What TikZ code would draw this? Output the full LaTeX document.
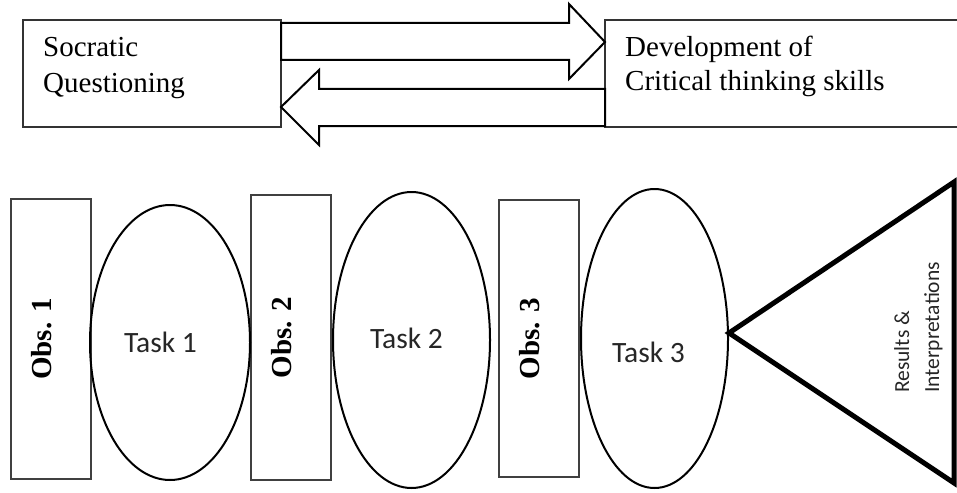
\documentclass[tikz,border=0pt]{standalone}
\usepackage{fontspec}
\setmainfont{Liberation Serif}
\newfontfamily\calibri{Carlito}
\usetikzlibrary{shapes.geometric}

\begin{document}
\begin{tikzpicture}[x=1pt,y=-1pt,
  conceptbox/.style={draw=black!80, line width=1.2pt, fill=white, rectangle,
    anchor=north west, inner sep=0pt, outer sep=0pt, minimum height=107pt},
  boxtext/.style={anchor=base west, align=left, inner sep=0pt,
    font=\fontsize{29}{36}\selectfont},
  blockarrow/.style={draw=black, line width=2pt, fill=white, line join=miter},
  obsbox/.style={draw=black!75, line width=1.2pt, rectangle, inner sep=0pt,
    outer sep=0pt, minimum width=80pt},
  obstext/.style={rotate=90, anchor=base, inner sep=0pt,
    font=\fontsize{29}{34}\selectfont\bfseries},
  taskoval/.style={draw=black, line width=2pt, ellipse, inner sep=0pt, outer sep=0pt},
  tasktext/.style={anchor=base, inner sep=0pt,
    font=\calibri\fontsize{29.5}{34}\selectfont, text=black!85},
  funnel/.style={draw=black, line width=5pt, line join=miter},
  restext/.style={rotate=90, anchor=base west, align=left, inner sep=0pt,
    font=\calibri\fontsize{21.5}{30}\selectfont, text=black!85}
]
\fill[white] (0,0) rectangle (957,492);
\useasboundingbox (0,0) rectangle (957,492);

% top row: the two concepts
\node[conceptbox, minimum width=258pt] (soc) at (23,20) {};
\node[conceptbox, minimum width=360pt] (dev) at (605,20) {};
% base anchor of a two-line node sits on its last line
\node[boxtext] (soctext) at (43,93) {Socratic\\Questioning};
\node[boxtext, font=\fontsize{29}{34}\selectfont] (devtext) at (625,91) {Development of\\Critical thinking skills};

% block arrows between the concepts
\draw[blockarrow] ([yshift=-3pt]soc.north east) -- (569,23) -- (569,4)
  -- ([yshift=-22pt]dev.north west) -- (569,79) -- (569,60)
  -- ([yshift=-40pt]soc.north east) -- cycle;
\draw[blockarrow] ([yshift=-69pt]dev.north west) -- (319,89) -- (319,70)
  -- ([yshift=-87pt]soc.north east) -- (319,145) -- (319,126)
  -- ([yshift=-106pt]dev.north west) -- cycle;

% bottom row: observations and tasks
\node[obsbox, minimum height=280pt] (obs1) at (51,339) {};
\node[obsbox, minimum height=285pt] (obs2) at (291,337.5) {};
\node[obsbox, minimum height=277pt] (obs3) at (539,338.5) {};
\node[obstext] (obs1text) at (obs1.center) {Obs. 1};
\node[obstext] (obs2text) at (obs2.center) {Obs. 2};
\node[obstext] (obs3text) at (obs3.center) {Obs. 3};

\node[taskoval, minimum width=160pt, minimum height=275pt] (task1) at (170,342.5) {};
\node[taskoval, minimum width=157pt, minimum height=296pt] (task2) at (411.5,340) {};
\node[taskoval, minimum width=147pt, minimum height=299pt] (task3) at (654.5,338.5) {};
\node[tasktext] (task1text) at (160.5,352) {Task 1};
\node[tasktext] (task2text) at (406.5,348) {Task 2};
\node[tasktext] (task3text) at (648.5,362) {Task 3};

% results funnel
\coordinate (tip) at (729,333);
\draw[funnel] (tip) -- (954,182) -- (954,483) -- cycle;
\node[restext] (restext) at (939,393) {Results \&\\Interpretations};
\end{tikzpicture}
\end{document}
